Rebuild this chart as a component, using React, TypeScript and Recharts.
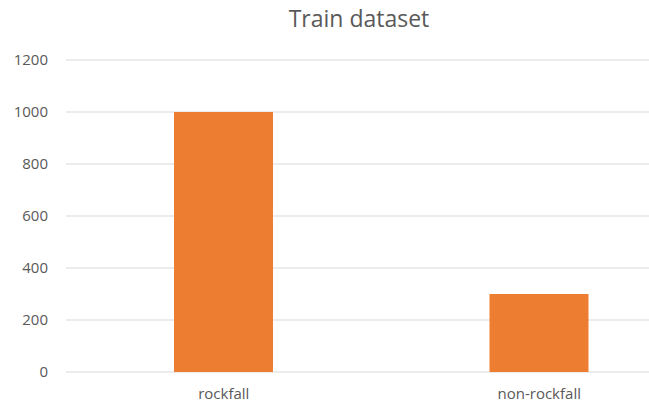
import { Bar, BarChart, CartesianGrid, XAxis, YAxis } from "recharts";

const categories = ["rockfall", "non-rockfall"];
const counts = [1000, 300];
const yTicks = [0, 200, 400, 600, 800, 1000, 1200];

const textColor = "#595959";
const fontFamily = "'Open Sans', sans-serif";

export default function App() {
  const data = categories.map((name, i) => ({ name, count: counts[i] }));
  return (
    <div style={{ position: "absolute", left: 0, top: 0, width: 649, height: 405, overflow: "hidden", background: "#fff", fontFamily }}>
      <div style={{ position: "absolute", left: 0, width: 718, top: 2, textAlign: "center", fontSize: 23, color: textColor }}>
        Train dataset
      </div>
      <BarChart width={720} height={405} data={data} margin={{ top: 60, right: 23, bottom: 0, left: 0 }}>
        <CartesianGrid vertical={false} stroke="#d9d9d9" />
        <XAxis
          dataKey="name"
          height={33}
          axisLine={false}
          tickLine={false}
          tickMargin={10}
          tick={{ fill: textColor, fontSize: 15, fontFamily }}
        />
        <YAxis
          width={66}
          domain={[0, 1200]}
          ticks={yTicks}
          axisLine={false}
          tickLine={false}
          tickMargin={12}
          tick={{ fill: textColor, fontSize: 15, fontFamily }}
        />
        <Bar dataKey="count" fill="#ed7d31" barSize={99} isAnimationActive={false} />
      </BarChart>
    </div>
  );
}
